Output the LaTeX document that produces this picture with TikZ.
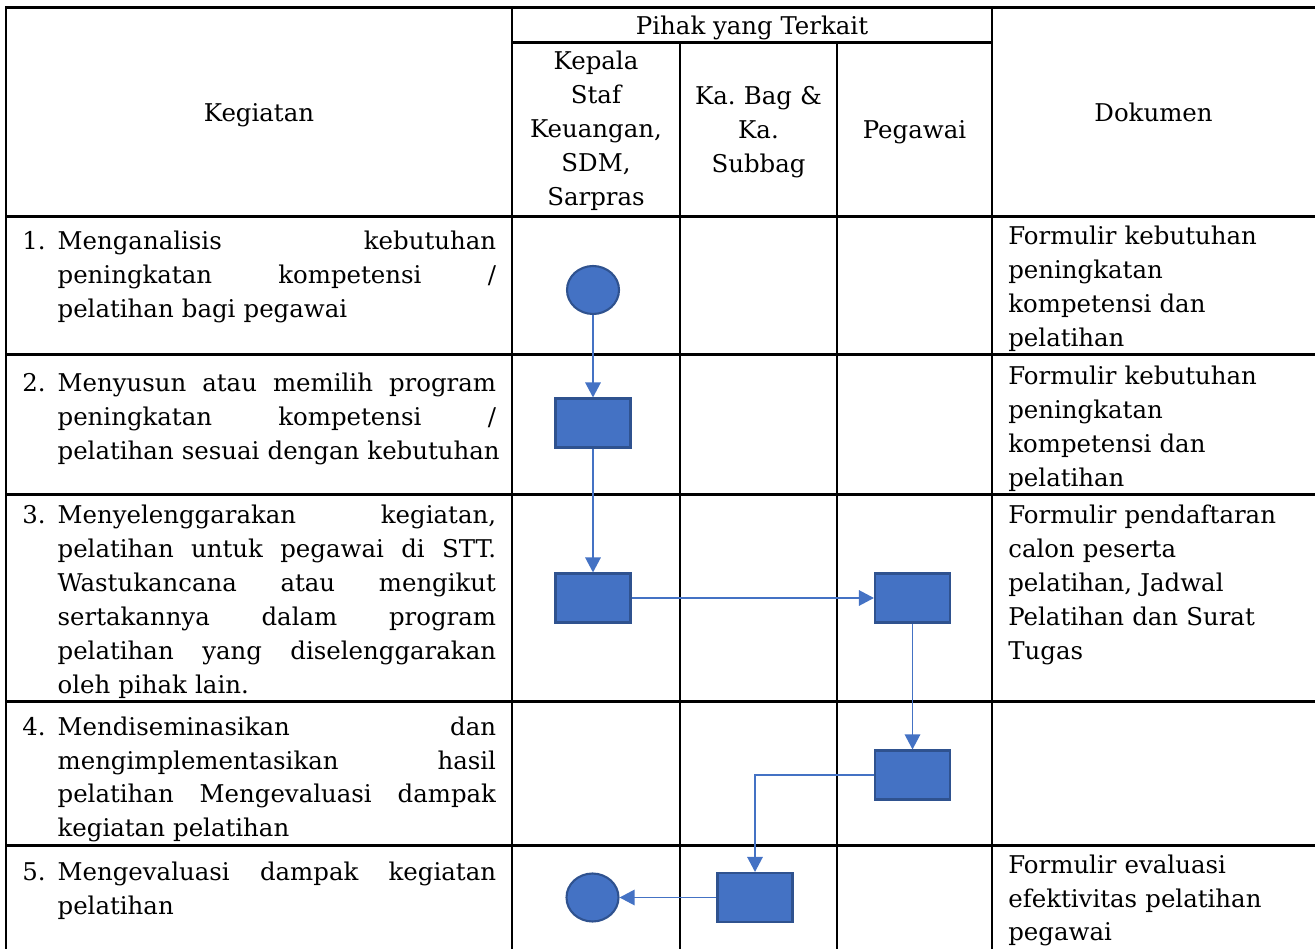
\documentclass[tikz,border=0pt]{standalone}
\usepackage{fontspec}
\setmainfont{DejaVu Serif}
\usetikzlibrary{arrows.meta,shapes.geometric,positioning}
\definecolor{isiBiru}{HTML}{4472C4}
\definecolor{tepiBiru}{HTML}{2F528F}
\newcommand{\jl}[1]{\leavevmode\hbox to 8.77cm{#1}}
\frenchspacing
\tikzset{
  garis/.style={line width=1.4pt},
  teks/.style={font=\fontsize{13.9pt}{19.35pt}\selectfont,inner sep=0pt},
  kol/.style={teks,anchor=base west,text width=8.77cm,align=left},
  dok/.style={teks,anchor=base west,text width=6cm,align=left},
  judul/.style={teks,anchor=base,align=center},
  proses/.style={rectangle,draw=tepiBiru,fill=isiBiru,line width=1.2pt,minimum width=1.5cm,minimum height=0.98cm,inner sep=0pt},
  awal/.style={ellipse,draw=tepiBiru,fill=isiBiru,line width=1.2pt,minimum width=1.04cm,minimum height=0.96cm,inner sep=0pt},
  alur/.style={draw=isiBiru,line width=0.8pt,-{Triangle[length=0.3cm,width=0.31cm]}}
}
\begin{document}
\begin{tikzpicture}[x=0.02cm,y=-0.02cm]
\useasboundingbox (0,0) rectangle (1315,949);
\draw[garis] (6,949) -- (6,7.5) -- (1315,7.5);
\draw[garis] (512,42.5) -- (992,42.5);
\draw[garis] (6,216.5) -- (1315,216.5);
\draw[garis] (6,354.5) -- (1315,354.5);
\draw[garis] (6,494.5) -- (1315,494.5);
\draw[garis] (6,701.5) -- (1315,701.5);
\draw[garis] (6,845.5) -- (1315,845.5);
\draw[garis] (512,7.5) -- (512,949);
\draw[garis] (680,42.5) -- (680,949);
\draw[garis] (837,42.5) -- (837,949);
\draw[garis] (992,7.5) -- (992,949);

\node[judul] (kegiatan) at (259,122) {Kegiatan};
\node[judul] (pihak) at (752,35) {Pihak yang Terkait};
\node[judul,text width=3.3cm] (kepala) at (596,70) {Kepala\\Staf\\Keuangan,\\SDM,\\Sarpras};
\node[judul,text width=3cm] (kabag) at (758.5,105) {Ka. Bag \&\\Ka.\\Subbag};
\node[judul] (pegawai) at (914.5,138.3) {Pegawai};
\node[judul] (dokumen) at (1153.5,122) {Dokumen};

\node[teks,anchor=base west] (no1) at (22,250) {1.};
\node[kol] (keg1) at (57.3,250) {\jl{Menganalisis \hfill kebutuhan}\\\jl{peningkatan \hfill kompetensi \hfill /}\\pelatihan bagi pegawai};
\node[teks,anchor=base west] (no2) at (22,391.7) {2.};
\node[kol] (keg2) at (57.3,391.7) {\jl{Menyusun \hfill atau \hfill memilih \hfill program}\\\jl{peningkatan \hfill kompetensi \hfill /}\\\mbox{pelatihan sesuai dengan kebutuhan}};
\node[teks,anchor=base west] (no3) at (22,523.3) {3.};
\node[kol] (keg3) at (57.3,523.3) {\jl{Menyelenggarakan \hfill kegiatan,}\\\jl{pelatihan \hfill untuk \hfill pegawai \hfill di \hfill STT.}\\\jl{Wastukancana \hfill atau \hfill mengikut}\\\jl{sertakannya \hfill dalam \hfill program}\\\jl{pelatihan \hfill yang \hfill diselenggarakan}\\oleh pihak lain.};
\node[teks,anchor=base west] (no4) at (22,735) {4.};
\node[kol] (keg4) at (57.3,735) {\jl{Mendiseminasikan \hfill dan}\\\jl{mengimplementasikan \hfill hasil}\\\jl{pelatihan \hfill Mengevaluasi \hfill dampak}\\kegiatan pelatihan};
\node[teks,anchor=base west] (no5) at (22,880) {5.};
\node[kol] (keg5) at (57.3,880) {\jl{Mengevaluasi \hfill dampak \hfill kegiatan}\\pelatihan};

\node[dok] (dok1) at (1008,244.3) {Formulir kebutuhan\\peningkatan\\kompetensi dan\\pelatihan};
\node[dok] (dok2) at (1008,384.3) {Formulir kebutuhan\\peningkatan\\kompetensi dan\\pelatihan};
\node[dok] (dok3) at (1008,523.3) {Formulir pendaftaran\\calon peserta\\pelatihan, Jadwal\\Pelatihan dan Surat\\Tugas};
\node[dok] (dok5) at (1008,873) {Formulir evaluasi\\efektivitas pelatihan\\pegawai};

\node[awal] (mulai) at (593,290) {};
\node[proses] (susun) at (593,423) {};
\node[proses] (selenggara) at (593,598) {};
\node[proses] (ikut) at (912.5,598) {};
\node[proses] (diseminasi) at (912.5,775) {};
\node[proses] (evaluasi) at (755,897.5) {};
\node[awal] (selesai) at (592.5,897.5) {};

\draw[alur] (mulai) -- (susun);
\draw[alur] (susun) -- (selenggara);
\draw[alur] (selenggara) -- (ikut);
\draw[alur] (ikut) -- (diseminasi);
\draw[alur] (diseminasi.west) -| (evaluasi.north);
\draw[alur] (evaluasi) -- (selesai);
\end{tikzpicture}
\end{document}
